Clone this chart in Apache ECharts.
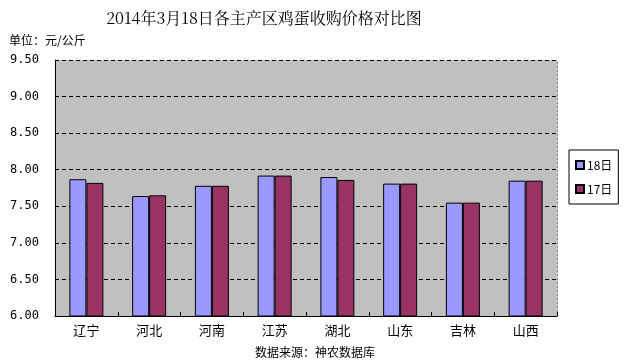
<!DOCTYPE html>
<html><head><meta charset="utf-8">
<script src="https://cdn.jsdelivr.net/npm/echarts@6/dist/echarts.min.js"></script>
<style>html,body{margin:0;padding:0;background:#fff}#c{width:637px;height:362px}</style>
</head><body><div id="c"></div>
<script>
const categories = ['辽宁','河北','河南','江苏','湖北','山东','吉林','山西'];
const seriesNames = ['18日','17日'];
const values18 = [7.87, 7.64, 7.78, 7.92, 7.90, 7.81, 7.55, 7.85];
const values17 = [7.82, 7.65, 7.78, 7.92, 7.86, 7.81, 7.55, 7.85];
const yTicks = [6.0, 6.5, 7.0, 7.5, 8.0, 8.5, 9.0, 9.5];

const chart = echarts.init(document.getElementById('c'));
const F = '"Noto Sans CJK SC", "DejaVu Sans", sans-serif';
chart.setOption({
  animation: false,
  backgroundColor: '#fff',
  title: [
    {text: '2014年3月18日各主产区鸡蛋收购价格对比图', left: 259, top: 5, textAlign: 'center',
     textStyle: {fontFamily: '"Noto Serif CJK SC", "Noto Sans CJK SC", serif', fontWeight: 'normal', fontSize: 16, color: '#000'}},
    {text: '单位：元/公斤', left: 4, top: 29, textStyle: {fontFamily: F, fontWeight: 'normal', fontSize: 12, color: '#000'}},
    {text: '数据来源：神农数据库', left: 310, top: 341, textAlign: 'center', textStyle: {fontFamily: F, fontWeight: 'normal', fontSize: 12, color: '#000'}}
  ],
  legend: {
    orient: 'vertical', left: 569, top: 150, width: 51, height: 55,
    padding: [9, 6, 9, 6], itemGap: 12,
    borderColor: '#000', borderWidth: 1,
    itemWidth: 8, itemHeight: 8, icon: 'rect',
    textStyle: {fontFamily: F, fontSize: 12, color: '#000', padding: [0,0,0,-2]},
    data: seriesNames
  },
  grid: {left: 55, right: 80, top: 60, bottom: 46, show: true, backgroundColor: '#C0C0C0', borderWidth: 0},
  xAxis: {
    type: 'category', data: categories,
    axisLine: {lineStyle: {color: '#000', width: 1}},
    axisTick: {show: true, inside: true, length: 4, lineStyle: {color: '#000'}},
    axisLabel: {fontFamily: F, fontSize: 13, color: '#000', margin: 8}
  },
  yAxis: [{
    type: 'value', min: 6.0, max: 9.5, interval: 0.5,
    axisLine: {show: true, lineStyle: {color: '#000'}},
    axisTick: {show: false},
    axisLabel: {fontFamily: '"DejaVu Sans Mono", monospace', fontSize: 12, color: '#000', margin: 16,
      formatter: v => v.toFixed(2)},
    splitLine: {show: true, lineStyle: {color: '#000', type: [4, 3], width: 1}}
  }, {
    type: 'value', min: 6.0, max: 9.5, interval: 0.5, position: 'right',
    axisLine: {show: true, lineStyle: {color: '#888', type: [2, 2]}},
    axisTick: {show: false}, axisLabel: {show: false}, splitLine: {show: false}
  }],
  series: [
    {name: seriesNames[0], type: 'bar', data: values18, barWidth: 17, barGap: '0%',
     itemStyle: {color: '#9999FF', borderColor: '#000', borderWidth: 1}},
    {name: seriesNames[1], type: 'bar', data: values17, barWidth: 17, barGap: '0%',
     itemStyle: {color: '#993366', borderColor: '#000', borderWidth: 1}}
  ]
});
</script></body></html>
